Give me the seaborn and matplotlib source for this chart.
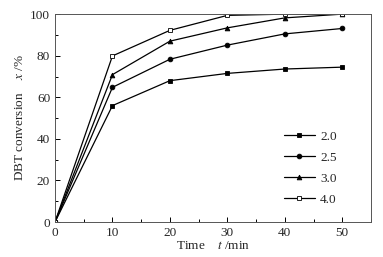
import pandas as pd
import seaborn as sns
import matplotlib.pyplot as plt
from matplotlib.ticker import MultipleLocator

# data
time_min = [0, 10, 20, 30, 40, 50]
conv_20 = [0, 56, 68, 71.5, 73.6, 74.5]
conv_25 = [0, 64.8, 78.3, 85.1, 90.5, 93.1]
conv_30 = [0, 70.9, 87, 93.4, 98.2, 100]
conv_40 = [0, 79.9, 92.2, 99.4, 100, 100]
labels = ["2.0", "2.5", "3.0", "4.0"]

sns.set_theme(style="ticks")
plt.rcParams["font.family"] = ["Liberation Serif", "DejaVu Serif"]
plt.rcParams["mathtext.fontset"] = "stix"

df = pd.DataFrame({
    "t": time_min * 4,
    "x": conv_20 + conv_25 + conv_30 + conv_40,
    "ratio": [lab for lab in labels for _ in time_min],
})

fig = plt.figure(figsize=(3.83, 2.57), dpi=100)
ax = fig.add_axes([0.1436, 0.136, 0.825, 0.809])

markers = {"2.0": "s", "2.5": "o", "3.0": "^", "4.0": "s"}
for lab in labels:
    sub = df[df["ratio"] == lab]
    face = "white" if lab == "4.0" else "black"
    sns.lineplot(data=sub, x="t", y="x", ax=ax, color="black", lw=0.9,
                 marker=markers[lab], markersize=3.4, markerfacecolor=face,
                 markeredgecolor="black", markeredgewidth=0.6, label=lab)

ax.set_xlim(0, 55)
ax.set_ylim(0, 100)
ax.xaxis.set_major_locator(MultipleLocator(10))
ax.xaxis.set_minor_locator(MultipleLocator(5))
ax.yaxis.set_major_locator(MultipleLocator(20))
ax.yaxis.set_minor_locator(MultipleLocator(10))
ax.tick_params(which="both", direction="in", labelsize=9.5, width=0.7, color="black")
ax.tick_params(which="major", length=3.5)
ax.tick_params(which="minor", length=2)
for s in ax.spines.values():
    s.set_linewidth(0.7)
    s.set_color("#555555")

ax.set_xlabel("Time    $\\it{t}$ /min", fontsize=9.5, labelpad=1)
ax.set_ylabel("DBT conversion    $\\it{x}$ /%", fontsize=9.5, labelpad=3)

ax.legend(loc="center left", bbox_to_anchor=(0.687, 0.26), frameon=False,
          fontsize=9.5, handlelength=2.35, labelspacing=0.66, handletextpad=0.4)

fig.savefig("out.png", dpi=100)
